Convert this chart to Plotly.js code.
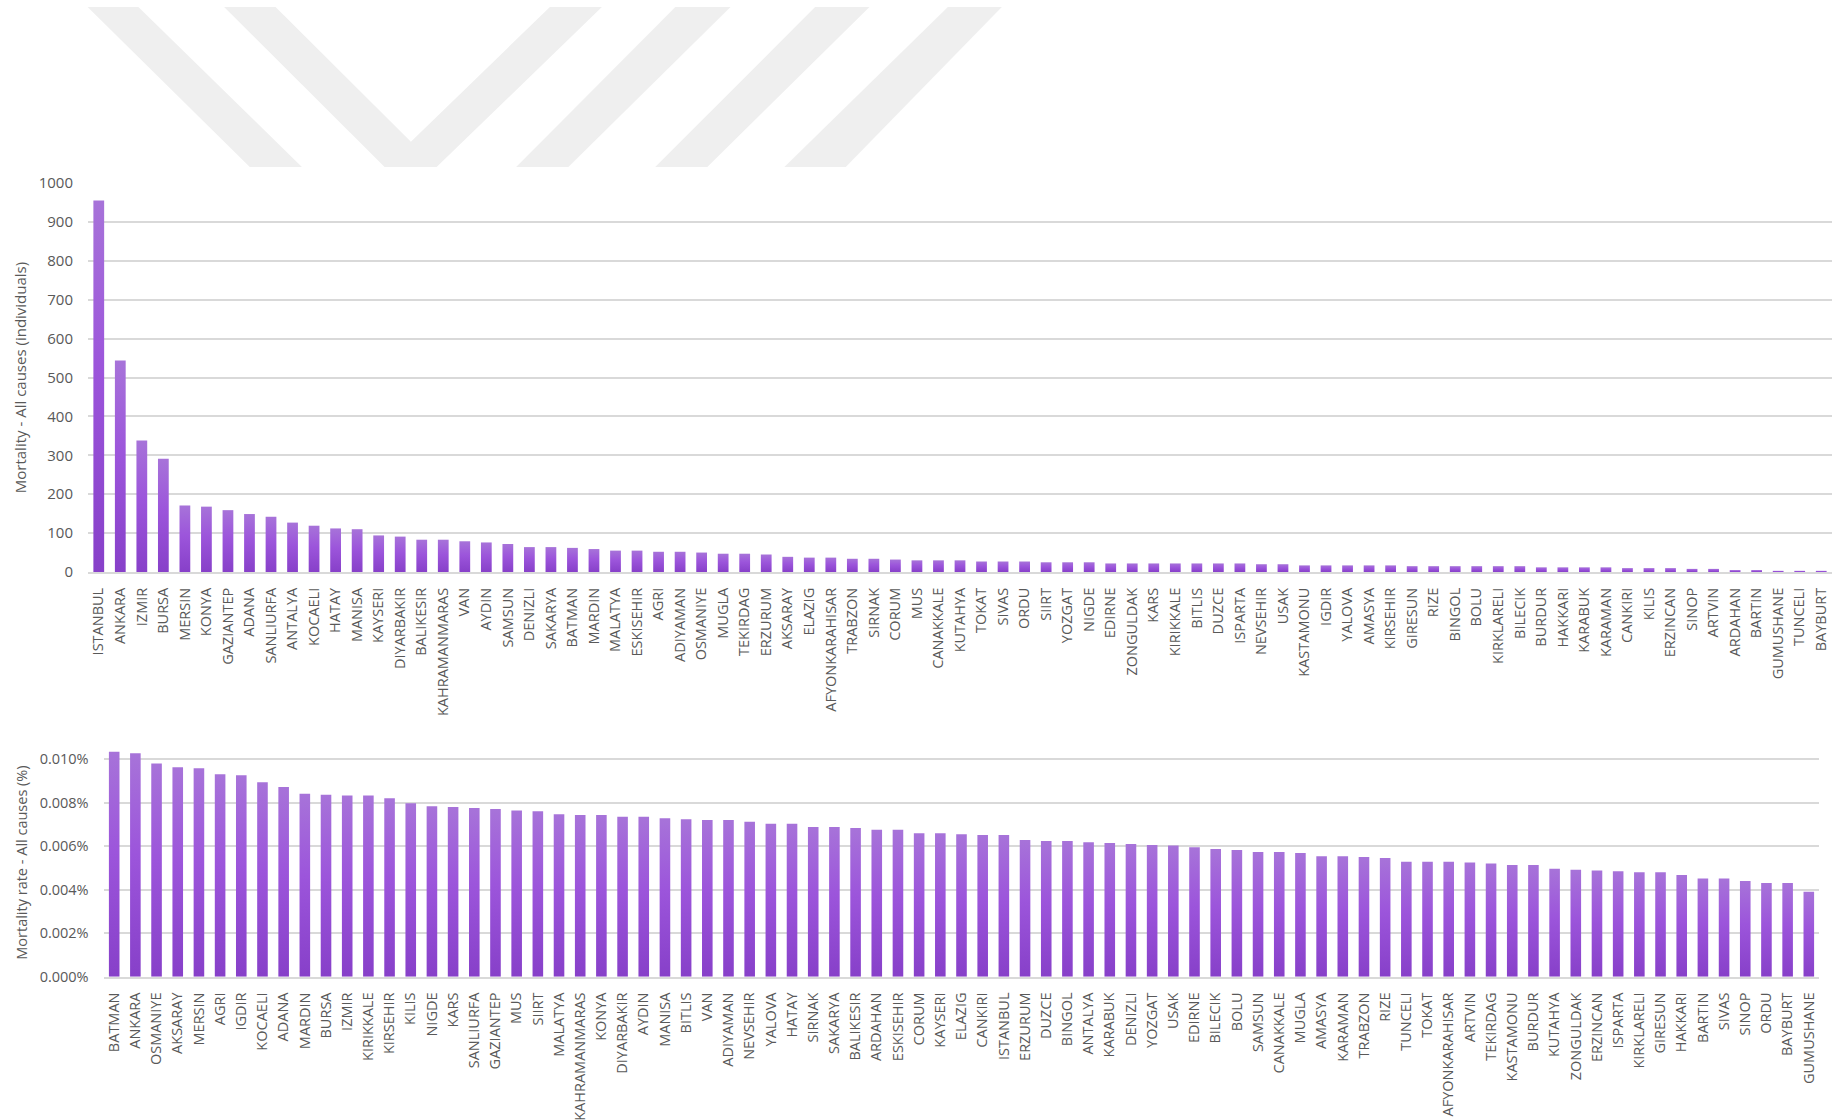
<!DOCTYPE html>
<html>
<head>
<meta charset="utf-8">
<script src="https://cdn.plot.ly/plotly-3.0.1.min.js"></script>
<style>
  html, body { margin: 0; padding: 0; background: #ffffff; }
  #chart { width: 1839px; height: 1120px; }
</style>
</head>
<body>
<div id="chart"></div>
<script>
// ---- Data: top chart (number of deaths, all causes) ----
const topProvinces = ["ISTANBUL","ANKARA","IZMIR","BURSA","MERSIN","KONYA","GAZIANTEP","ADANA","SANLIURFA","ANTALYA",
  "KOCAELI","HATAY","MANISA","KAYSERI","DIYARBAKIR","BALIKESIR","KAHRAMANMARAS","VAN","AYDIN","SAMSUN",
  "DENIZLI","SAKARYA","BATMAN","MARDIN","MALATYA","ESKISEHIR","AGRI","ADIYAMAN","OSMANIYE","MUGLA",
  "TEKIRDAG","ERZURUM","AKSARAY","ELAZIG","AFYONKARAHISAR","TRABZON","SIRNAK","CORUM","MUS","CANAKKALE",
  "KUTAHYA","TOKAT","SIVAS","ORDU","SIIRT","YOZGAT","NIGDE","EDIRNE","ZONGULDAK","KARS",
  "KIRIKKALE","BITLIS","DUZCE","ISPARTA","NEVSEHIR","USAK","KASTAMONU","IGDIR","YALOVA","AMASYA",
  "KIRSEHIR","GIRESUN","RIZE","BINGOL","BOLU","KIRKLARELI","BILECIK","BURDUR","HAKKARI","KARABUK",
  "KARAMAN","CANKIRI","KILIS","ERZINCAN","SINOP","ARTVIN","ARDAHAN","BARTIN","GUMUSHANE","TUNCELI","BAYBURT"];
const topDeaths = [955,544,338,291,171,168,159,149,142,127,
  119,112,110,94,91,83,83,79,76,72,
  64,64,62,59,55,55,52,52,50,47,
  47,45,39,37,37,34,34,32,30,30,
  30,27,27,27,25,25,25,22,22,22,
  22,22,22,22,20,20,17,17,17,17,
  17,15,15,15,15,15,15,12,12,12,
  12,10,10,10,8,8,5,5,3,3,3];

// ---- Data: bottom chart (mortality rate, %) ----
const rateProvinces = ["BATMAN","ANKARA","OSMANIYE","AKSARAY","MERSIN","AGRI","IGDIR","KOCAELI","ADANA","MARDIN",
  "BURSA","IZMIR","KIRIKKALE","KIRSEHIR","KILIS","NIGDE","KARS","SANLIURFA","GAZIANTEP","MUS",
  "SIIRT","MALATYA","KAHRAMANMARAS","KONYA","DIYARBAKIR","AYDIN","MANISA","BITLIS","VAN","ADIYAMAN",
  "NEVSEHIR","YALOVA","HATAY","SIRNAK","SAKARYA","BALIKESIR","ARDAHAN","ESKISEHIR","CORUM","KAYSERI",
  "ELAZIG","CANKIRI","ISTANBUL","ERZURUM","DUZCE","BINGOL","ANTALYA","KARABUK","DENIZLI","YOZGAT",
  "USAK","EDIRNE","BILECIK","BOLU","SAMSUN","CANAKKALE","MUGLA","AMASYA","KARAMAN","TRABZON",
  "RIZE","TUNCELI","TOKAT","AFYONKARAHISAR","ARTVIN","TEKIRDAG","KASTAMONU","BURDUR","KUTAHYA","ZONGULDAK",
  "ERZINCAN","ISPARTA","KIRKLARELI","GIRESUN","HAKKARI","BARTIN","SIVAS","SINOP","ORDU","BAYBURT","GUMUSHANE"];
const ratePercent = [0.01035,0.01028,0.00980,0.00963,0.00959,0.00931,0.00926,0.00894,0.00873,0.00842,
  0.00837,0.00833,0.00833,0.00821,0.00798,0.00784,0.00781,0.00776,0.00771,0.00764,
  0.00761,0.00747,0.00744,0.00744,0.00736,0.00736,0.00729,0.00724,0.00721,0.00721,
  0.00713,0.00704,0.00704,0.00689,0.00689,0.00684,0.00676,0.00676,0.00660,0.00660,
  0.00655,0.00652,0.00652,0.00629,0.00624,0.00624,0.00618,0.00615,0.00610,0.00606,
  0.00603,0.00595,0.00587,0.00583,0.00574,0.00574,0.00569,0.00554,0.00554,0.00551,
  0.00546,0.00529,0.00529,0.00529,0.00525,0.00521,0.00514,0.00514,0.00497,0.00492,
  0.00488,0.00485,0.00480,0.00480,0.00468,0.00452,0.00452,0.00440,0.00431,0.00431,0.00391];

// ---- Styling ----
const W = 1839, H = 1120;
const textGray = '#595959';
const gridGray = '#d9d9d9';
const barColor = '#9a50d8';
const fontFam = '"Open Sans", "DejaVu Sans", sans-serif';

function px(x) { return x / W; }
function py(y) { return 1 - y / H; }
function poly(points) {
  return 'M ' + points.map(p => px(p[0]).toFixed(5) + ',' + py(p[1]).toFixed(5)).join(' L ') + ' Z';
}

// light grey watermark at the top of the page
const wm = [
  [[87.6,7],[138.4,7],[301.9,167],[249.8,167]],
  [[224.1,7],[275.6,7],[410.9,141.7],[549.9,7],[601.9,7],[436.6,167],[384.6,167]],
  [[675.4,7],[730.5,7],[568.3,167],[516.2,167]],
  [[815.1,7],[869.5,7],[707.3,167],[655.2,167]],
  [[947.9,7],[1001.8,7],[845.7,167],[784.4,167]]
];
const shapes = wm.map(p => ({
  type: 'path', xref: 'paper', yref: 'paper', path: poly(p),
  fillcolor: '#efefef', line: {width: 0}, layer: 'below'
}));

const traces = [
  {
    type: 'bar', x: topProvinces, y: topDeaths, xaxis: 'x', yaxis: 'y',
    marker: {color: barColor, line: {width: 0}}, hoverinfo: 'x+y'
  },
  {
    type: 'bar', x: rateProvinces, y: ratePercent, xaxis: 'x2', yaxis: 'y2',
    marker: {color: barColor, line: {width: 0}}, hoverinfo: 'x+y'
  }
];

const tickFont = {family: fontFam, size: 14.5, color: textGray};

const layout = {
  width: W, height: H,
  margin: {l: 0, r: 0, t: 0, b: 0, pad: 0},
  paper_bgcolor: '#ffffff', plot_bgcolor: 'rgba(0,0,0,0)',
  showlegend: false,
  bargap: 0.5,
  font: {family: fontFam, color: textGray},
  shapes: shapes,
  xaxis: {
    domain: [px(88), px(1832)], anchor: 'y',
    type: 'category', tickangle: -90, tickfont: tickFont,
    showgrid: false, showline: true, linecolor: gridGray, linewidth: 2,
    ticks: '', ticklabelstandoff: 8, automargin: false, fixedrange: true
  },
  yaxis: {
    domain: [py(572), py(183)], anchor: 'x',
    range: [0, 1000], dtick: 100, tickfont: {family: fontFam, size: 15, color: textGray},
    showgrid: true, gridcolor: gridGray, gridwidth: 2, zeroline: false,
    showline: false, ticks: '', ticklabelstandoff: 14, automargin: false,
    title: {text: 'Mortality - All causes (individuals)', font: {family: fontFam, size: 15, color: textGray}, standoff: 8},
    fixedrange: true
  },
  xaxis2: {
    domain: [px(103.6), px(1819.4)], anchor: 'y2',
    type: 'category', tickangle: -90, tickfont: tickFont,
    showgrid: false, showline: true, linecolor: gridGray, linewidth: 2,
    ticks: '', ticklabelstandoff: 8, automargin: false, fixedrange: true
  },
  yaxis2: {
    domain: [py(976.7), py(748.4)], anchor: 'x2',
    range: [0, 0.0105], dtick: 0.002, tickformat: '.3f', ticksuffix: '%',
    tickfont: {family: fontFam, size: 14.5, color: textGray},
    showgrid: true, gridcolor: gridGray, gridwidth: 2, zeroline: false,
    showline: false, ticks: '', ticklabelstandoff: 14, automargin: false,
    title: {text: 'Mortality rate - All causes (%)', font: {family: fontFam, size: 14.5, color: textGray}, standoff: 8},
    fixedrange: true
  }
};

Plotly.newPlot('chart', traces, layout, {displayModeBar: false, staticPlot: true}).then(gd => {
  // vertical gradient on each bar, as in the original
  const svg = gd.querySelector('svg.main-svg');
  const ns = 'http://www.w3.org/2000/svg';
  let defs = svg.querySelector('defs');
  if (!defs) { defs = document.createElementNS(ns, 'defs'); svg.insertBefore(defs, svg.firstChild); }
  const g = document.createElementNS(ns, 'linearGradient');
  g.setAttribute('id', 'barGrad');
  g.setAttribute('x1', '0'); g.setAttribute('y1', '0');
  g.setAttribute('x2', '0'); g.setAttribute('y2', '1');
  [['0', '#a773d9'], ['0.45', '#9c55db'], ['1', '#8740c9']].forEach(([o, c]) => {
    const s = document.createElementNS(ns, 'stop');
    s.setAttribute('offset', o); s.setAttribute('stop-color', c);
    g.appendChild(s);
  });
  defs.appendChild(g);
  gd.querySelectorAll('.barlayer .point path').forEach(p => { p.style.fill = 'url(#barGrad)'; });
});
</script>
</body>
</html>
